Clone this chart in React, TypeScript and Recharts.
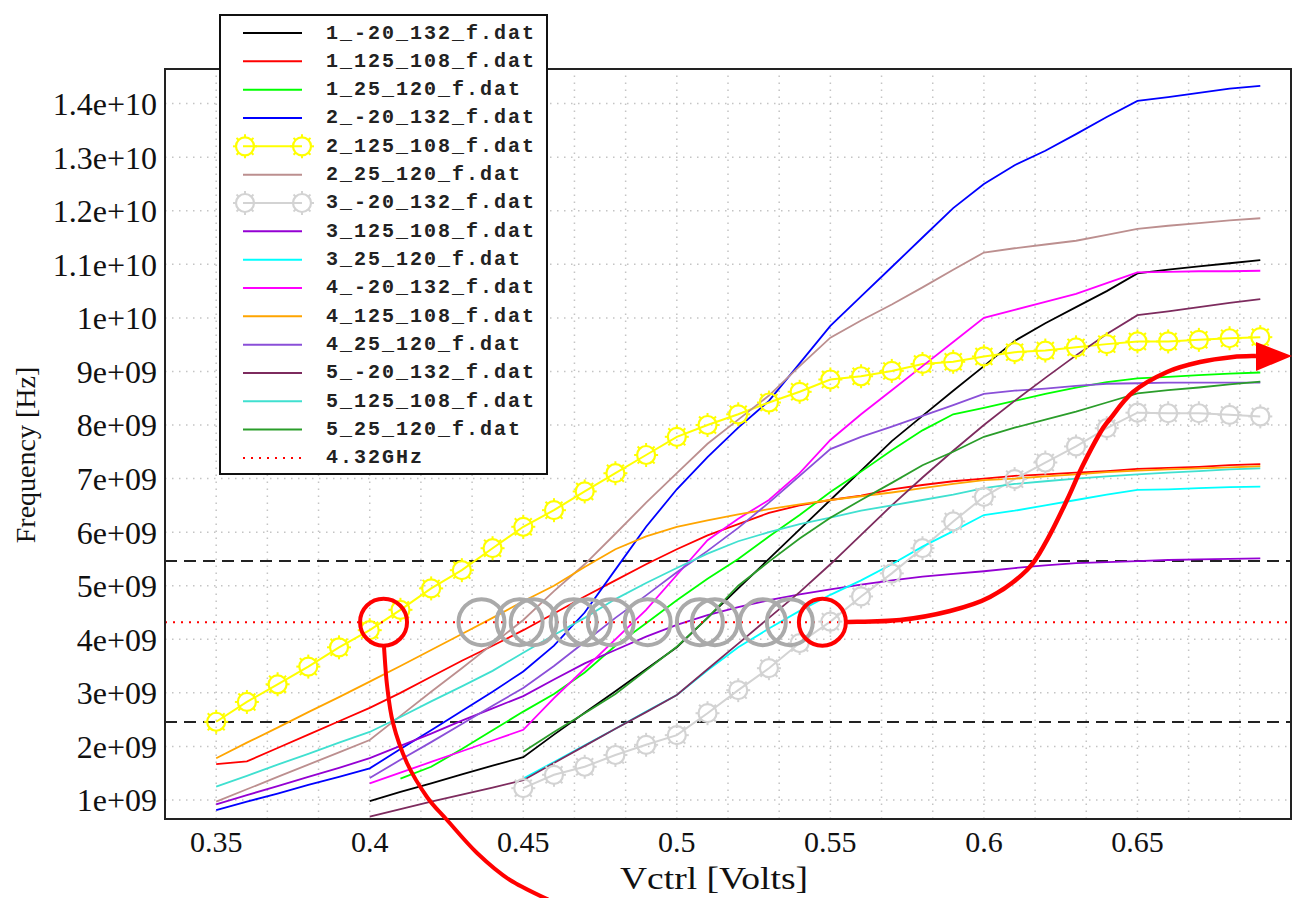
import React from 'react'
import { LineChart, Line, XAxis, YAxis, ReferenceLine, ReferenceDot } from 'recharts'

// Vctrl sweep, 10 mV steps
const xs = [
  0.35, 0.36, 0.37, 0.38, 0.39, 0.4, 0.41, 0.42, 0.43, 0.44, 0.45, 0.46, 0.47, 0.48, 0.49, 0.5, 0.51, 0.52,
  0.53, 0.54, 0.55, 0.56, 0.57, 0.58, 0.59, 0.6, 0.61, 0.62, 0.63, 0.64, 0.65, 0.66, 0.67, 0.68, 0.69,
]

// frequencies in GHz, each list starts at its own first Vctrl
const f1m20 = [0.98, 1.15, 1.31, 1.48, 1.64, 1.8, 2.22, 2.63, 3.03, 3.44, 3.85, 4.4, 4.95, 5.5, 6.05, 6.6, 7.15, 7.7, 8.17, 8.64, 9.1, 9.57, 9.9, 10.2, 10.5, 10.83, 10.9, 10.96, 11.02, 11.08]
const f1h125 = [1.67, 1.72, 1.97, 2.22, 2.47, 2.72, 3.0, 3.3, 3.6, 3.88, 4.17, 4.48, 4.8, 5.1, 5.4, 5.68, 5.94, 6.15, 6.36, 6.5, 6.6, 6.68, 6.8, 6.88, 6.95, 7.0, 7.05, 7.08, 7.11, 7.14, 7.18, 7.2, 7.22, 7.25, 7.27]
const f1t25 = [1.4, 1.62, 1.95, 2.3, 2.65, 2.98, 3.38, 3.88, 4.3, 4.73, 5.13, 5.5, 5.92, 6.32, 6.75, 7.13, 7.53, 7.9, 8.2, 8.32, 8.45, 8.58, 8.7, 8.8, 8.87, 8.9, 8.93, 8.96, 8.98]
const f2m20 = [0.81, 0.97, 1.12, 1.28, 1.43, 1.59, 1.95, 2.3, 2.66, 3.02, 3.4, 3.88, 4.5, 5.3, 6.1, 6.8, 7.4, 7.95, 8.45, 9.15, 9.85, 10.4, 10.95, 11.5, 12.05, 12.5, 12.85, 13.12, 13.43, 13.75, 14.05, 14.12, 14.2, 14.28, 14.33]
const f2h125 = [2.46, 2.83, 3.16, 3.49, 3.85, 4.17, 4.55, 4.95, 5.29, 5.7, 6.1, 6.41, 6.76, 7.1, 7.44, 7.78, 8.0, 8.2, 8.42, 8.62, 8.85, 8.91, 9.01, 9.14, 9.18, 9.28, 9.36, 9.39, 9.45, 9.51, 9.56, 9.56, 9.59, 9.62, 9.64]
const f2t25 = [0.97, 1.2, 1.43, 1.66, 1.89, 2.12, 2.57, 3.02, 3.46, 3.91, 4.36, 4.9, 5.4, 5.97, 6.55, 7.1, 7.65, 8.1, 8.55, 9.1, 9.63, 9.95, 10.25, 10.57, 10.9, 11.22, 11.3, 11.37, 11.44, 11.55, 11.66, 11.72, 11.77, 11.82, 11.86]
const f3m20 = [1.22, 1.47, 1.62, 1.84, 2.03, 2.21, 2.62, 3.05, 3.46, 3.93, 4.33, 4.8, 5.23, 5.7, 6.2, 6.66, 6.99, 7.3, 7.6, 7.94, 8.23, 8.22, 8.22, 8.19, 8.16]
const f3h125 = [0.92, 1.09, 1.26, 1.43, 1.6, 1.78, 2.01, 2.24, 2.48, 2.71, 2.94, 3.25, 3.55, 3.8, 4.05, 4.27, 4.45, 4.6, 4.73, 4.84, 4.93, 5.02, 5.1, 5.17, 5.22, 5.27, 5.33, 5.38, 5.42, 5.44, 5.46, 5.48, 5.49, 5.5, 5.51]
const f3t25 = [1.4, 1.71, 2.02, 2.33, 2.65, 2.96, 3.42, 3.85, 4.2, 4.53, 4.83, 5.1, 5.4, 5.73, 6.02, 6.32, 6.4, 6.5, 6.6, 6.7, 6.79, 6.8, 6.82, 6.84, 6.85]
const f4m20 = [1.31, 1.51, 1.71, 1.91, 2.11, 2.31, 2.9, 3.45, 4.0, 4.55, 5.2, 5.85, 6.25, 6.6, 7.1, 7.72, 8.2, 8.65, 9.1, 9.55, 10.0, 10.15, 10.3, 10.45, 10.65, 10.85, 10.86, 10.87, 10.87, 10.88]
const f4h125 = [1.78, 2.07, 2.35, 2.64, 2.92, 3.21, 3.5, 3.8, 4.1, 4.4, 4.71, 5.0, 5.35, 5.68, 5.92, 6.1, 6.22, 6.33, 6.43, 6.52, 6.6, 6.67, 6.74, 6.82, 6.9, 6.97, 7.0, 7.04, 7.08, 7.12, 7.15, 7.17, 7.19, 7.21, 7.23]
const f4t25 = [1.41, 1.75, 2.08, 2.42, 2.76, 3.09, 3.5, 3.95, 4.4, 4.82, 5.25, 5.65, 6.08, 6.55, 7.05, 7.55, 7.78, 7.97, 8.17, 8.37, 8.58, 8.64, 8.68, 8.73, 8.77, 8.78, 8.79, 8.79, 8.79, 8.79]
const f5m20 = [0.69, 0.83, 0.97, 1.1, 1.23, 1.37, 1.69, 2.01, 2.33, 2.64, 2.96, 3.44, 3.92, 4.4, 4.88, 5.4, 5.95, 6.5, 7.02, 7.52, 8.0, 8.45, 8.88, 9.3, 9.7, 10.05, 10.12, 10.2, 10.28, 10.35]
const f5h125 = [1.25, 1.45, 1.66, 1.86, 2.07, 2.27, 2.55, 2.84, 3.12, 3.41, 3.75, 4.08, 4.4, 4.75, 5.05, 5.33, 5.6, 5.83, 6.0, 6.15, 6.27, 6.4, 6.5, 6.6, 6.7, 6.82, 6.9, 6.95, 7.0, 7.04, 7.08, 7.11, 7.14, 7.17, 7.19]
const f5t25 = [1.9, 2.27, 2.62, 2.98, 3.42, 3.86, 4.4, 5.0, 5.45, 5.88, 6.27, 6.6, 6.92, 7.25, 7.5, 7.78, 7.95, 8.1, 8.25, 8.42, 8.59, 8.65, 8.7, 8.76, 8.81]

const series = [
  { key: 's1', name: '1_-20_132_f.dat', color: '#000000', from: 0.4, vals: f1m20 },
  { key: 's2', name: '1_125_108_f.dat', color: '#ff0000', from: 0.35, vals: f1h125 },
  { key: 's3', name: '1_25_120_f.dat', color: '#00ff00', from: 0.41, vals: f1t25 },
  { key: 's4', name: '2_-20_132_f.dat', color: '#0000ff', from: 0.35, vals: f2m20 },
  { key: 's5', name: '2_125_108_f.dat', color: '#ffff00', from: 0.35, vals: f2h125, marker: true },
  { key: 's6', name: '2_25_120_f.dat', color: '#bc8f8f', from: 0.35, vals: f2t25 },
  { key: 's7', name: '3_-20_132_f.dat', color: '#d3d3d3', from: 0.45, vals: f3m20, marker: true },
  { key: 's8', name: '3_125_108_f.dat', color: '#9400d3', from: 0.35, vals: f3h125 },
  { key: 's9', name: '3_25_120_f.dat', color: '#00ffff', from: 0.45, vals: f3t25 },
  { key: 's10', name: '4_-20_132_f.dat', color: '#ff00ff', from: 0.4, vals: f4m20 },
  { key: 's11', name: '4_125_108_f.dat', color: '#ffa500', from: 0.35, vals: f4h125 },
  { key: 's12', name: '4_25_120_f.dat', color: '#8a4fd8', from: 0.4, vals: f4t25 },
  { key: 's13', name: '5_-20_132_f.dat', color: '#7d2b5e', from: 0.4, vals: f5m20 },
  { key: 's14', name: '5_125_108_f.dat', color: '#40e0d0', from: 0.35, vals: f5h125 },
  { key: 's15', name: '5_25_120_f.dat', color: '#2a9d2a', from: 0.45, vals: f5t25 },
]

const target = 4.32e9
const bandLimits = [5.46e9, 2.455e9]
const xTicks = [0.35, 0.4, 0.45, 0.5, 0.55, 0.6, 0.65]
const yTicks = [1e9, 2e9, 3e9, 4e9, 5e9, 6e9, 7e9, 8e9, 9e9, 1e10, 1.1e10, 1.2e10, 1.3e10, 1.4e10]
const xGrid = Array.from({ length: 21 }, (_, k) => 0.35 + (k * 0.05) / 3)

// crossings of the 4.32GHz line
const grayCrossings = [0.4364, 0.4488, 0.4534, 0.4664, 0.471, 0.4785, 0.4905, 0.5075, 0.5124, 0.528, 0.5368]
const redCrossings = [0.4045, 0.5474]

// hand-drawn arrows, in data units (Vctrl, GHz)
const arrowDown = [
  [0.40465, 3.856], [0.40563, 3.146], [0.40758, 2.437], [0.41214, 1.69], [0.41865, 1.056],
  [0.42517, 0.626], [0.43494, 0.01], [0.44568, -0.494], [0.46034, -0.923],
]
const arrowRight = [
  [0.55542, 4.323], [0.57268, 4.36], [0.58896, 4.528], [0.60198, 4.789], [0.61403, 5.293],
  [0.62054, 5.853], [0.62706, 6.6], [0.63194, 7.216], [0.6378, 7.851], [0.64106, 8.112],
  [0.64855, 8.616], [0.65962, 8.99], [0.67037, 9.176], [0.68111, 9.27], [0.6886, 9.289],
]
const arrowHead = [[0.70033, 9.289], [0.6886, 9.55], [0.6886, 9.008]]

const W = 1293
const H = 898
const PLOT = { left: 165, top: 69, right: 1291, bottom: 819 }
const X_DOMAIN: [number, number] = [0.35 - 0.05 / 3, 0.7]
const Y_DOMAIN: [number, number] = [0.645e9, 14.646e9]

const rows = xs.map((x, i) => {
  const row: Record<string, number | null> = { x }
  series.forEach((s) => {
    const start = Math.round((s.from - 0.35) * 100)
    const v = s.vals[i - start]
    row[s.key] = i >= start && v !== undefined ? v * 1e9 : null
  })
  return row
})

const sx = (x: number) => PLOT.left + ((x - X_DOMAIN[0]) / (X_DOMAIN[1] - X_DOMAIN[0])) * (PLOT.right - PLOT.left)
const sy = (g: number) => PLOT.bottom - ((g * 1e9 - Y_DOMAIN[0]) / (Y_DOMAIN[1] - Y_DOMAIN[0])) * (PLOT.bottom - PLOT.top)

function smoothPath(pts: number[][]) {
  const p = pts.map(([x, g]) => [sx(x), sy(g)])
  let d = `M${p[0][0]},${p[0][1]}`
  for (let i = 0; i < p.length - 1; i++) {
    const p0 = p[i - 1] || p[i]
    const p1 = p[i]
    const p2 = p[i + 1]
    const p3 = p[i + 2] || p2
    const c1x = p1[0] + (p2[0] - p0[0]) / 6
    const c1y = p1[1] + (p2[1] - p0[1]) / 6
    const c2x = p2[0] - (p3[0] - p1[0]) / 6
    const c2y = p2[1] - (p3[1] - p1[1]) / 6
    d += ` C${c1x},${c1y} ${c2x},${c2y} ${p2[0]},${p2[1]}`
  }
  return d
}

const Gear = ({ cx, cy, color }: { cx: number; cy: number; color: string }) => {
  const r = 9
  return (
    <g>
      <circle cx={cx} cy={cy} r={r} fill="none" stroke={color} strokeWidth={2.2} />
      {[0, 45, 90, 135, 180, 225, 270, 315].map((a) => {
        const t = (a * Math.PI) / 180
        return (
          <line
            key={a}
            x1={cx + Math.cos(t) * r}
            y1={cy + Math.sin(t) * r}
            x2={cx + Math.cos(t) * (r + 3)}
            y2={cy + Math.sin(t) * (r + 3)}
            stroke={color}
            strokeWidth={2}
          />
        )
      })}
    </g>
  )
}

const fmtY = (v: number) => {
  if (v >= 1e10) return `${Number((v / 1e10).toFixed(2))}e+10`
  return `${Number((v / 1e9).toFixed(2))}e+09`
}

const serif = "'Liberation Serif', 'Times New Roman', serif"
const xTickStyle = { fontFamily: serif, fontSize: 30, fill: '#111' }
const yTickStyle = { fontFamily: serif, fontSize: 32, fill: '#111' }
const legendFont = "'Liberation Mono', monospace"

const Legend = () => {
  const rowY = (i: number) => 33 + i * 28.33
  return (
    <g>
      <rect x={220} y={15} width={327} height={459} fill="#fff" stroke="#111" strokeWidth={2} />
      {series.map((s, i) => (
        <g key={s.key}>
          <line x1={243} x2={302} y1={rowY(i)} y2={rowY(i)} stroke={s.color} strokeWidth={2} />
          {s.marker && <Gear cx={245} cy={rowY(i)} color={s.color} />}
          {s.marker && <Gear cx={302} cy={rowY(i)} color={s.color} />}
          <text x={326} y={rowY(i)} dominantBaseline="central" fontFamily={legendFont} fontWeight="bold"
            fontSize={20} letterSpacing={2} fill="#222">{s.name}</text>
        </g>
      ))}
      <line x1={243} x2={302} y1={rowY(15)} y2={rowY(15)} stroke="#ff0000" strokeWidth={2} strokeDasharray="2 6" />
      <text x={326} y={rowY(15)} dominantBaseline="central" fontFamily={legendFont} fontWeight="bold"
        fontSize={20} letterSpacing={2} fill="#222">4.32GHz</text>
    </g>
  )
}

export default function App() {
  return (
    <div style={{ position: 'absolute', left: 0, top: 0, width: W, height: H, background: '#fff' }}>
      <LineChart width={W} height={H} data={rows} margin={{ top: 69, right: 2, bottom: 29, left: 0 }}>
        <XAxis
          dataKey="x"
          type="number"
          domain={X_DOMAIN}
          allowDataOverflow
          ticks={xTicks}
          tickFormatter={(v) => String(v)}
          axisLine={false}
          tickLine={false}
          tickSize={0}
          tickMargin={12}
          height={50}
          tick={xTickStyle}
        />
        <YAxis
          type="number"
          domain={Y_DOMAIN}
          allowDataOverflow
          ticks={yTicks}
          tickFormatter={fmtY}
          axisLine={false}
          tickLine={false}
          tickSize={0}
          tickMargin={8}
          width={165}
          tick={yTickStyle}
        />
        {yTicks.map((v) => (
          <ReferenceLine key={`h${v}`} y={v} stroke="#c4c4c4" strokeWidth={1.5} strokeDasharray="1.5 5.5" />
        ))}
        {xGrid.map((v) => (
          <ReferenceLine key={`v${v}`} x={v} stroke="#c4c4c4" strokeWidth={1.5} strokeDasharray="1.5 5.5" />
        ))}
        {bandLimits.map((v) => (
          <ReferenceLine key={`b${v}`} y={v} stroke="#222" strokeWidth={2} strokeDasharray="12 7" />
        ))}
        {series.map((s) => (
          <Line
            key={s.key}
            dataKey={s.key}
            name={s.name}
            type="linear"
            stroke={s.color}
            strokeWidth={s.marker ? 2 : 1.8}
            isAnimationActive={false}
            dot={
              s.marker
                ? (p: any) =>
                    p.cy == null || p.value == null ? (
                      <g key={`${s.key}-${p.index}`} />
                    ) : (
                      <Gear key={`${s.key}-${p.index}`} cx={p.cx} cy={p.cy} color={s.color} />
                    )
                : false
            }
            activeDot={false}
          />
        ))}
        <ReferenceLine y={target} stroke="#ff0000" strokeWidth={2} strokeDasharray="2 6" />
        {grayCrossings.map((x) => (
          <ReferenceDot key={`g${x}`} x={x} y={target} r={23} fill="none" stroke="#aaaaaa" strokeWidth={4} ifOverflow="visible" />
        ))}
        {redCrossings.map((x) => (
          <ReferenceDot key={`r${x}`} x={x} y={target} r={23.5} fill="none" stroke="#ff0000" strokeWidth={4} ifOverflow="visible" />
        ))}
      </LineChart>
      <svg width={W} height={H} style={{ position: 'absolute', left: 0, top: 0, pointerEvents: 'none' }}>
        <rect x={PLOT.left} y={PLOT.top} width={PLOT.right - PLOT.left} height={PLOT.bottom - PLOT.top}
          fill="none" stroke="#222" strokeWidth={2} />
        <Legend />
        <text x={714} y={878} textAnchor="middle" dominantBaseline="central" fontFamily={serif}
          fontSize={32} textLength={188} lengthAdjust="spacingAndGlyphs" fill="#111">Vctrl [Volts]</text>
        <text x={25} y={455} textAnchor="middle" dominantBaseline="central" fontFamily={serif}
          fontSize={28} fill="#111" transform="rotate(-90 25 455)">Frequency [Hz]</text>
        <path d={smoothPath(arrowDown)} fill="none" stroke="#ff0000" strokeWidth={4} />
        <path d={smoothPath(arrowRight)} fill="none" stroke="#ff0000" strokeWidth={4.5} />
        <polygon points={arrowHead.map(([x, g]) => `${sx(x)},${sy(g)}`).join(' ')} fill="#ff0000" />
      </svg>
    </div>
  )
}
